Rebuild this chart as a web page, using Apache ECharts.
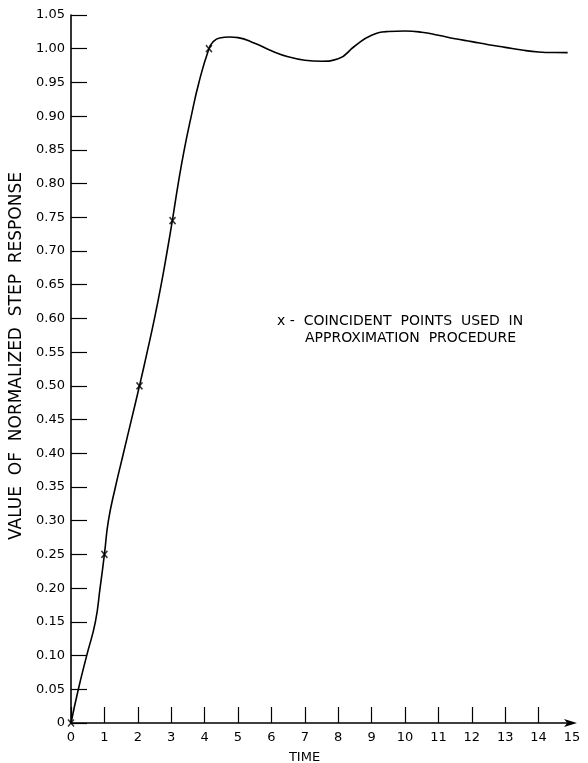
<!DOCTYPE html>
<html>
<head>
<meta charset="utf-8">
<script src="https://cdn.jsdelivr.net/npm/echarts@6/dist/echarts.min.js"></script>
<style>
html,body{margin:0;padding:0;background:#fff;}
#c{width:588px;height:763px;}
</style>
</head>
<body>
<div id="c"></div>
<script>
// Step response curve (time, value)
const curveTime = [0, 0.22, 0.47, 0.73, 0.87, 1.0, 1.12, 1.33, 1.57, 1.81, 2.05, 2.28, 2.5, 2.7, 2.88, 3.05, 3.21, 3.39, 3.6, 3.83, 4.13, 4.25, 4.45, 4.75, 5.0, 5.5, 6.0, 6.5, 7.0, 7.5, 8.0, 8.5, 9.0, 9.5, 10.0, 10.5, 11.0, 11.5, 12.0, 12.5, 13.0, 13.5, 14.0, 14.5, 14.87];
const curveValue = [0, 0.05, 0.10, 0.15, 0.20, 0.25, 0.30, 0.35, 0.40, 0.45, 0.50, 0.55, 0.60, 0.65, 0.70, 0.75, 0.80, 0.85, 0.90, 0.95, 1.0, 1.010, 1.016, 1.0174, 1.0165, 1.008, 0.997, 0.988, 0.983, 0.9815, 0.985, 1.004, 1.020, 1.0255, 1.0263, 1.0245, 1.020, 1.0148, 1.0105, 1.006, 1.002, 0.998, 0.9952, 0.9943, 0.9942];
// Coincident points used in approximation procedure
const pointTime = [0, 1.0, 2.05, 3.04, 4.13];
const pointValue = [0, 0.25, 0.5, 0.745, 1.0];
// Axis ticks
const xTickValues = [0,1,2,3,4,5,6,7,8,9,10,11,12,13,14];
const xLabelValues = [0,1,2,3,4,5,6,7,8,9,10,11,12,13,14,15];
const yAxisTitle = 'VALUE  OF  NORMALIZED  STEP  RESPONSE';
const xAxisTitle = 'TIME';
const noteLine1 = 'x -  COINCIDENT  POINTS  USED  IN';
const noteLine2 = 'APPROXIMATION  PROCEDURE';

const FONT = 'DejaVu Sans';
const chart = echarts.init(document.getElementById('c'), null, {renderer: 'canvas'});
const curveData = curveTime.map((t, i) => [t, curveValue[i]]);
const pointData = pointTime.map((t, i) => [t, pointValue[i]]);

chart.setOption({
  backgroundColor: '#fff',
  animation: false,
  grid: {left: 71, right: 16, top: 15, bottom: 40, containLabel: false, outerBoundsMode: 'none'},
  xAxis: {
    type: 'value', min: 0, max: 15, interval: 1,
    name: xAxisTitle, nameLocation: 'middle', nameGap: 28,
    nameTextStyle: {fontFamily: FONT, fontSize: 13, color: '#000', padding: [0, 34, 0, 0]},
    axisLine: {show: true, lineStyle: {color: '#000', width: 1.6}, symbol: ['none', 'arrow'], symbolSize: [6, 13], symbolOffset: [0, 5]},
    axisTick: {show: true, inside: true, length: 16, lineStyle: {color: '#000', width: 1.2}, customValues: xTickValues},
    axisLabel: {fontFamily: FONT, fontSize: 13, color: '#000', margin: 8, customValues: xLabelValues},
    splitLine: {show: false}
  },
  yAxis: {
    type: 'value', min: 0, max: 1.05, interval: 0.05,
    name: yAxisTitle, nameLocation: 'middle', nameGap: 46, nameRotate: 90,
    nameTextStyle: {fontFamily: FONT, fontSize: 17, color: '#000', padding: [0, 0, 0, 26]},
    axisLine: {show: true, lineStyle: {color: '#000', width: 1.6}},
    axisTick: {show: true, inside: true, length: 16, lineStyle: {color: '#000', width: 1.2}},
    axisLabel: {fontFamily: FONT, fontSize: 13, color: '#000', margin: 6,
      formatter: v => (Math.abs(v) < 1e-9 ? '0' : v.toFixed(2))},
    splitLine: {show: false}
  },
  series: [
    {
      type: 'line', data: curveData, smooth: 0.5, showSymbol: false,
      lineStyle: {color: '#000', width: 1.6}, silent: true, z: 3
    },
    {
      type: 'scatter', data: pointData,
      symbol: 'path://M0,0L10,10M10,0L0,10', symbolSize: [6, 7],
      itemStyle: {color: 'none', borderColor: '#000', borderWidth: 1.6}, z: 4
    }
  ],
  graphic: [
    {type: 'text', left: 277, top: 314, style: {text: noteLine1, font: '14px "DejaVu Sans"', fill: '#000'}},
    {type: 'text', left: 305, top: 331, style: {text: noteLine2, font: '14px "DejaVu Sans"', fill: '#000'}}
  ]
});
</script>
</body>
</html>
